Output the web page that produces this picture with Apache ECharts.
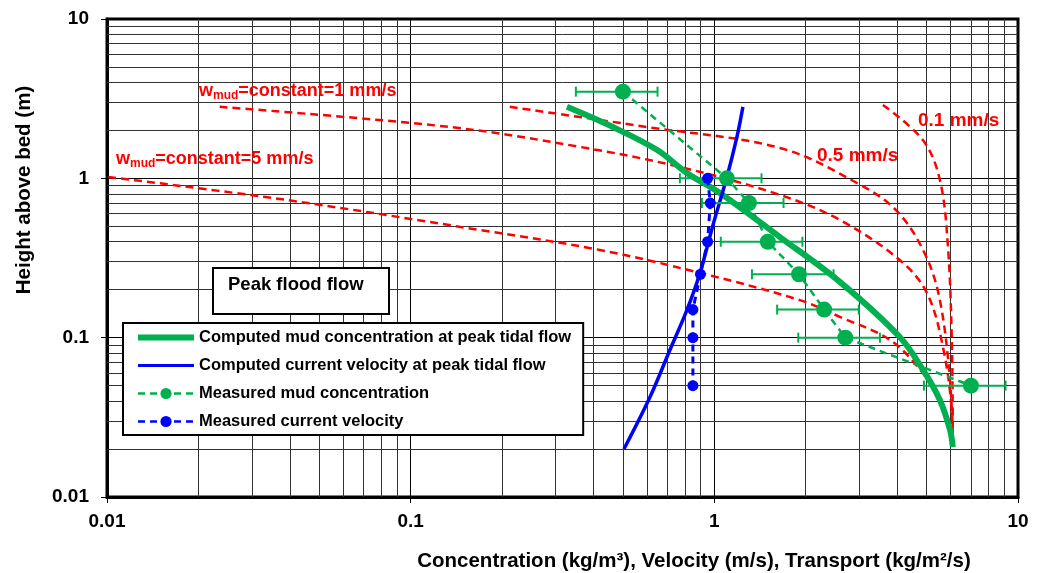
<!DOCTYPE html>
<html>
<head>
<meta charset="utf-8">
<script src="https://cdn.jsdelivr.net/npm/echarts@6/dist/echarts.min.js"></script>
<style>
  html, body { margin: 0; padding: 0; background: #fff; }
  #chart { width: 1037px; height: 573px; }
</style>
</head>
<body>
<div id="chart"></div>
<script>
// tick labels on both log axes
const xTicks = [0.01, 0.1, 1, 10];
const yTicks = [0.01, 0.1, 1, 10];
// minor grid values (2..9 in every decade)
const minorSteps = [2, 3, 4, 5, 6, 7, 8, 9];
const decades = [0.01, 0.1, 1];

// computed curves, [x, height]
const mudComputed = [[0.327, 2.81], [0.463, 2.10], [0.647, 1.51], [0.812, 1.08], [1.043, 0.81],
  [1.644, 0.428], [2.59, 0.224], [4.08, 0.101], [4.86, 0.063], [5.53, 0.0406], [5.97, 0.0264], [6.1, 0.0206]];
const velComputed = [[0.504, 0.02], [0.614, 0.0424], [0.714, 0.0837], [0.812, 0.149], [0.897, 0.255],
  [0.99, 0.51], [1.10, 1.02], [1.187, 1.82], [1.242, 2.81]];

// constant settling velocity profiles
const wmud5 = [[0.0101, 1.02], [0.0391, 0.731], [0.169, 0.474], [0.42, 0.355], [0.897, 0.255], [1.913, 0.172],
  [2.59, 0.135], [3.79, 0.0967], [4.86, 0.060], [5.53, 0.0406], [5.97, 0.0264], [6.1, 0.0206]];
const wmud1 = [[0.0235, 2.81], [0.1347, 2.10], [0.361, 1.575], [0.77, 1.179], [1.644, 0.787], [2.59, 0.548],
  [4.08, 0.307], [5.01, 0.191], [5.66, 0.0874], [6.06, 0.0337], [6.1, 0.0206]];
const wmud05 = [[0.212, 2.81], [0.60, 2.10], [1.644, 1.552], [2.95, 0.935], [3.99, 0.624], [4.94, 0.335],
  [5.53, 0.172], [5.97, 0.0543], [6.1, 0.0206]];
const wmud01 = [[3.59, 2.89], [4.86, 1.74], [5.53, 0.977], [5.88, 0.371], [6.06, 0.0874], [6.1, 0.0206]];

// measurements
const mudHeights = [3.5, 1.0, 0.7, 0.4, 0.25, 0.15, 0.1, 0.05];
const mudConc = [0.5, 1.1, 1.3, 1.5, 1.9, 2.3, 2.7, 7.0];
const mudLow = [0.35, 0.77, 0.91, 1.05, 1.33, 1.61, 1.89, 4.9];
const mudHigh = [0.65, 1.43, 1.69, 1.95, 2.47, 2.99, 3.51, 9.1];
const velHeights = [1.0, 0.7, 0.4, 0.25, 0.15, 0.1, 0.05];
const velMeasured = [0.95, 0.97, 0.95, 0.9, 0.85, 0.85, 0.85];

const GREEN = '#00B050';
const BLUE = '#0000FF';
const RED = '#FF0000';
const FONT = '"Liberation Sans", Arial, sans-serif';

const names = [
  'Computed mud concentration at peak tidal flow',
  'Computed current velocity at peak tidal flow',
  'Measured mud concentration',
  'Measured current velocity'
];

const minorVals = [];
decades.forEach(d => minorSteps.forEach(s => minorVals.push(+(d * s).toPrecision(2))));

const chart = echarts.init(document.getElementById('chart'), null, { renderer: 'canvas' });

function tickFmt(v) {
  return v >= 1 ? String(Math.round(v)) : String(+Number(v).toPrecision(1));
}

function redCurve(data) {
  return {
    type: 'line', data: data, symbol: 'none', smooth: 0.35, z: 3,
    lineStyle: { color: RED, width: 2.5, type: [8, 5] }
  };
}

const option = {
  animation: false,
  grid: {
    left: 107, top: 19, right: 19, bottom: 76,
    show: true, borderColor: '#000', borderWidth: 3
  },
  xAxis: {
    type: 'log', logBase: 10, min: 0.01, max: 10,
    axisLine: { show: true, lineStyle: { color: '#000', width: 3 } },
    axisTick: { show: true, length: 6, lineStyle: { color: '#000' } },
    axisLabel: { formatter: tickFmt, fontFamily: FONT, fontWeight: 'bold', fontSize: 19, color: '#000', margin: 15 },
    splitLine: { show: true, lineStyle: { color: '#000', width: 1 } }
  },
  yAxis: {
    type: 'log', logBase: 10, min: 0.01, max: 10,
    axisLine: { show: true, lineStyle: { color: '#000', width: 3 } },
    axisTick: { show: true, length: 6, lineStyle: { color: '#000' } },
    axisLabel: { formatter: tickFmt, fontFamily: FONT, fontWeight: 'bold', fontSize: 19, color: '#000', margin: 18 },
    splitLine: { show: true, lineStyle: { color: '#000', width: 1 } }
  },
  legend: {
    orient: 'vertical', left: 123, top: 323, z: 20,
    padding: [6, 12, 5, 12], itemGap: 11, itemWidth: 56, itemHeight: 14,
    borderColor: '#000', borderWidth: 2, backgroundColor: '#fff',
    selectedMode: false,
    textStyle: { fontFamily: FONT, fontWeight: 'bold', fontSize: 16.5, color: '#000' },
    data: [
      { name: names[0], lineStyle: { width: 6 }, itemStyle: { opacity: 0 } },
      { name: names[1], lineStyle: { width: 3 }, itemStyle: { opacity: 0 } },
      { name: names[2], lineStyle: { width: 2.5 } },
      { name: names[3], lineStyle: { width: 2.5 } }
    ]
  },
  graphic: [
    { type: 'text', left: 116, top: 150, z: 10,
      style: { text: '{w|w}{s|mud}{w|=constant=5 mm/s}', rich: {
        w: { fontFamily: FONT, fontWeight: 'bold', fontSize: 18, fill: RED },
        s: { fontFamily: FONT, fontWeight: 'bold', fontSize: 12, fill: RED, padding: [9, 0, 0, 0] } } } },
    { type: 'text', left: 199, top: 82, z: 10,
      style: { text: '{w|w}{s|mud}{w|=constant=1 mm/s}', rich: {
        w: { fontFamily: FONT, fontWeight: 'bold', fontSize: 18, fill: RED },
        s: { fontFamily: FONT, fontWeight: 'bold', fontSize: 12, fill: RED, padding: [9, 0, 0, 0] } } } },
    { type: 'text', left: 817, top: 146, z: 10,
      style: { text: '0.5 mm/s', fontFamily: FONT, fontWeight: 'bold', fontSize: 19, fill: RED } },
    { type: 'text', left: 918, top: 111, z: 10,
      style: { text: '0.1 mm/s', fontFamily: FONT, fontWeight: 'bold', fontSize: 19, fill: RED } },
    { type: 'rect', left: 212, top: 267, z: 10,
      shape: { width: 176, height: 46 }, style: { fill: '#fff', stroke: '#000', lineWidth: 2 } },
    { type: 'text', left: 228, top: 275, z: 11,
      style: { text: 'Peak flood flow', fontFamily: FONT, fontWeight: 'bold', fontSize: 18.5, fill: '#000' } },
    { type: 'text', x: 24, y: 190, rotation: Math.PI / 2, z: 10,
      style: { text: 'Height above bed (m)', fontFamily: FONT, fontWeight: 'bold', fontSize: 20.5, fill: '#000',
        align: 'center', verticalAlign: 'middle' } },
    { type: 'text', x: 694, y: 561, z: 10,
      style: { text: 'Concentration (kg/m³), Velocity (m/s), Transport (kg/m²/s)', fontFamily: FONT,
        fontWeight: 'bold', fontSize: 20.5, fill: '#000', align: 'center', verticalAlign: 'middle' } }
  ],
  series: [
    {
      // carries the minor grid lines
      type: 'line', data: [], symbol: 'none', z: 1, silent: true,
      markLine: {
        silent: true, symbol: ['none', 'none'], label: { show: false }, z: 1,
        lineStyle: { color: '#333', width: 1, type: 'solid' },
        emphasis: { disabled: true },
        data: minorVals.map(v => ({ xAxis: v })).concat(minorVals.map(v => ({ yAxis: v })))
      }
    },
    redCurve(wmud5),
    redCurve(wmud1),
    redCurve(wmud05),
    redCurve(wmud01),
    {
      name: names[0], type: 'line', data: mudComputed, symbol: 'none', smooth: 0.35, z: 4,
      lineStyle: { color: GREEN, width: 6 }, itemStyle: { color: GREEN }
    },
    {
      name: names[1], type: 'line', data: velComputed, symbol: 'none', smooth: 0.35, z: 4,
      lineStyle: { color: BLUE, width: 3.5 }, itemStyle: { color: BLUE }
    },
    {
      type: 'custom', z: 5,
      data: mudHeights.map((h, i) => [mudLow[i], mudHigh[i], h]),
      encode: { x: [0, 1], y: 2 },
      renderItem: function (params, api) {
        const y = api.value(2);
        const a = api.coord([api.value(0), y]);
        const b = api.coord([api.value(1), y]);
        const st = { stroke: GREEN, lineWidth: 2 };
        return {
          type: 'group', children: [
            { type: 'line', shape: { x1: a[0], y1: a[1], x2: b[0], y2: b[1] }, style: st },
            { type: 'line', shape: { x1: a[0], y1: a[1] - 5, x2: a[0], y2: a[1] + 5 }, style: st },
            { type: 'line', shape: { x1: b[0], y1: b[1] - 5, x2: b[0], y2: b[1] + 5 }, style: st }
          ]
        };
      }
    },
    {
      name: names[2], type: 'line', z: 6,
      data: mudHeights.map((h, i) => [mudConc[i], h]),
      symbol: 'circle', symbolSize: 16, showSymbol: true,
      lineStyle: { color: GREEN, width: 2.5, type: [7, 5] }, itemStyle: { color: GREEN }
    },
    {
      name: names[3], type: 'line', z: 6,
      data: velHeights.map((h, i) => [velMeasured[i], h]),
      symbol: 'circle', symbolSize: 11, showSymbol: true,
      lineStyle: { color: BLUE, width: 3, type: [7, 5] }, itemStyle: { color: BLUE }
    }
  ]
};

chart.setOption(option);
</script>
</body>
</html>
